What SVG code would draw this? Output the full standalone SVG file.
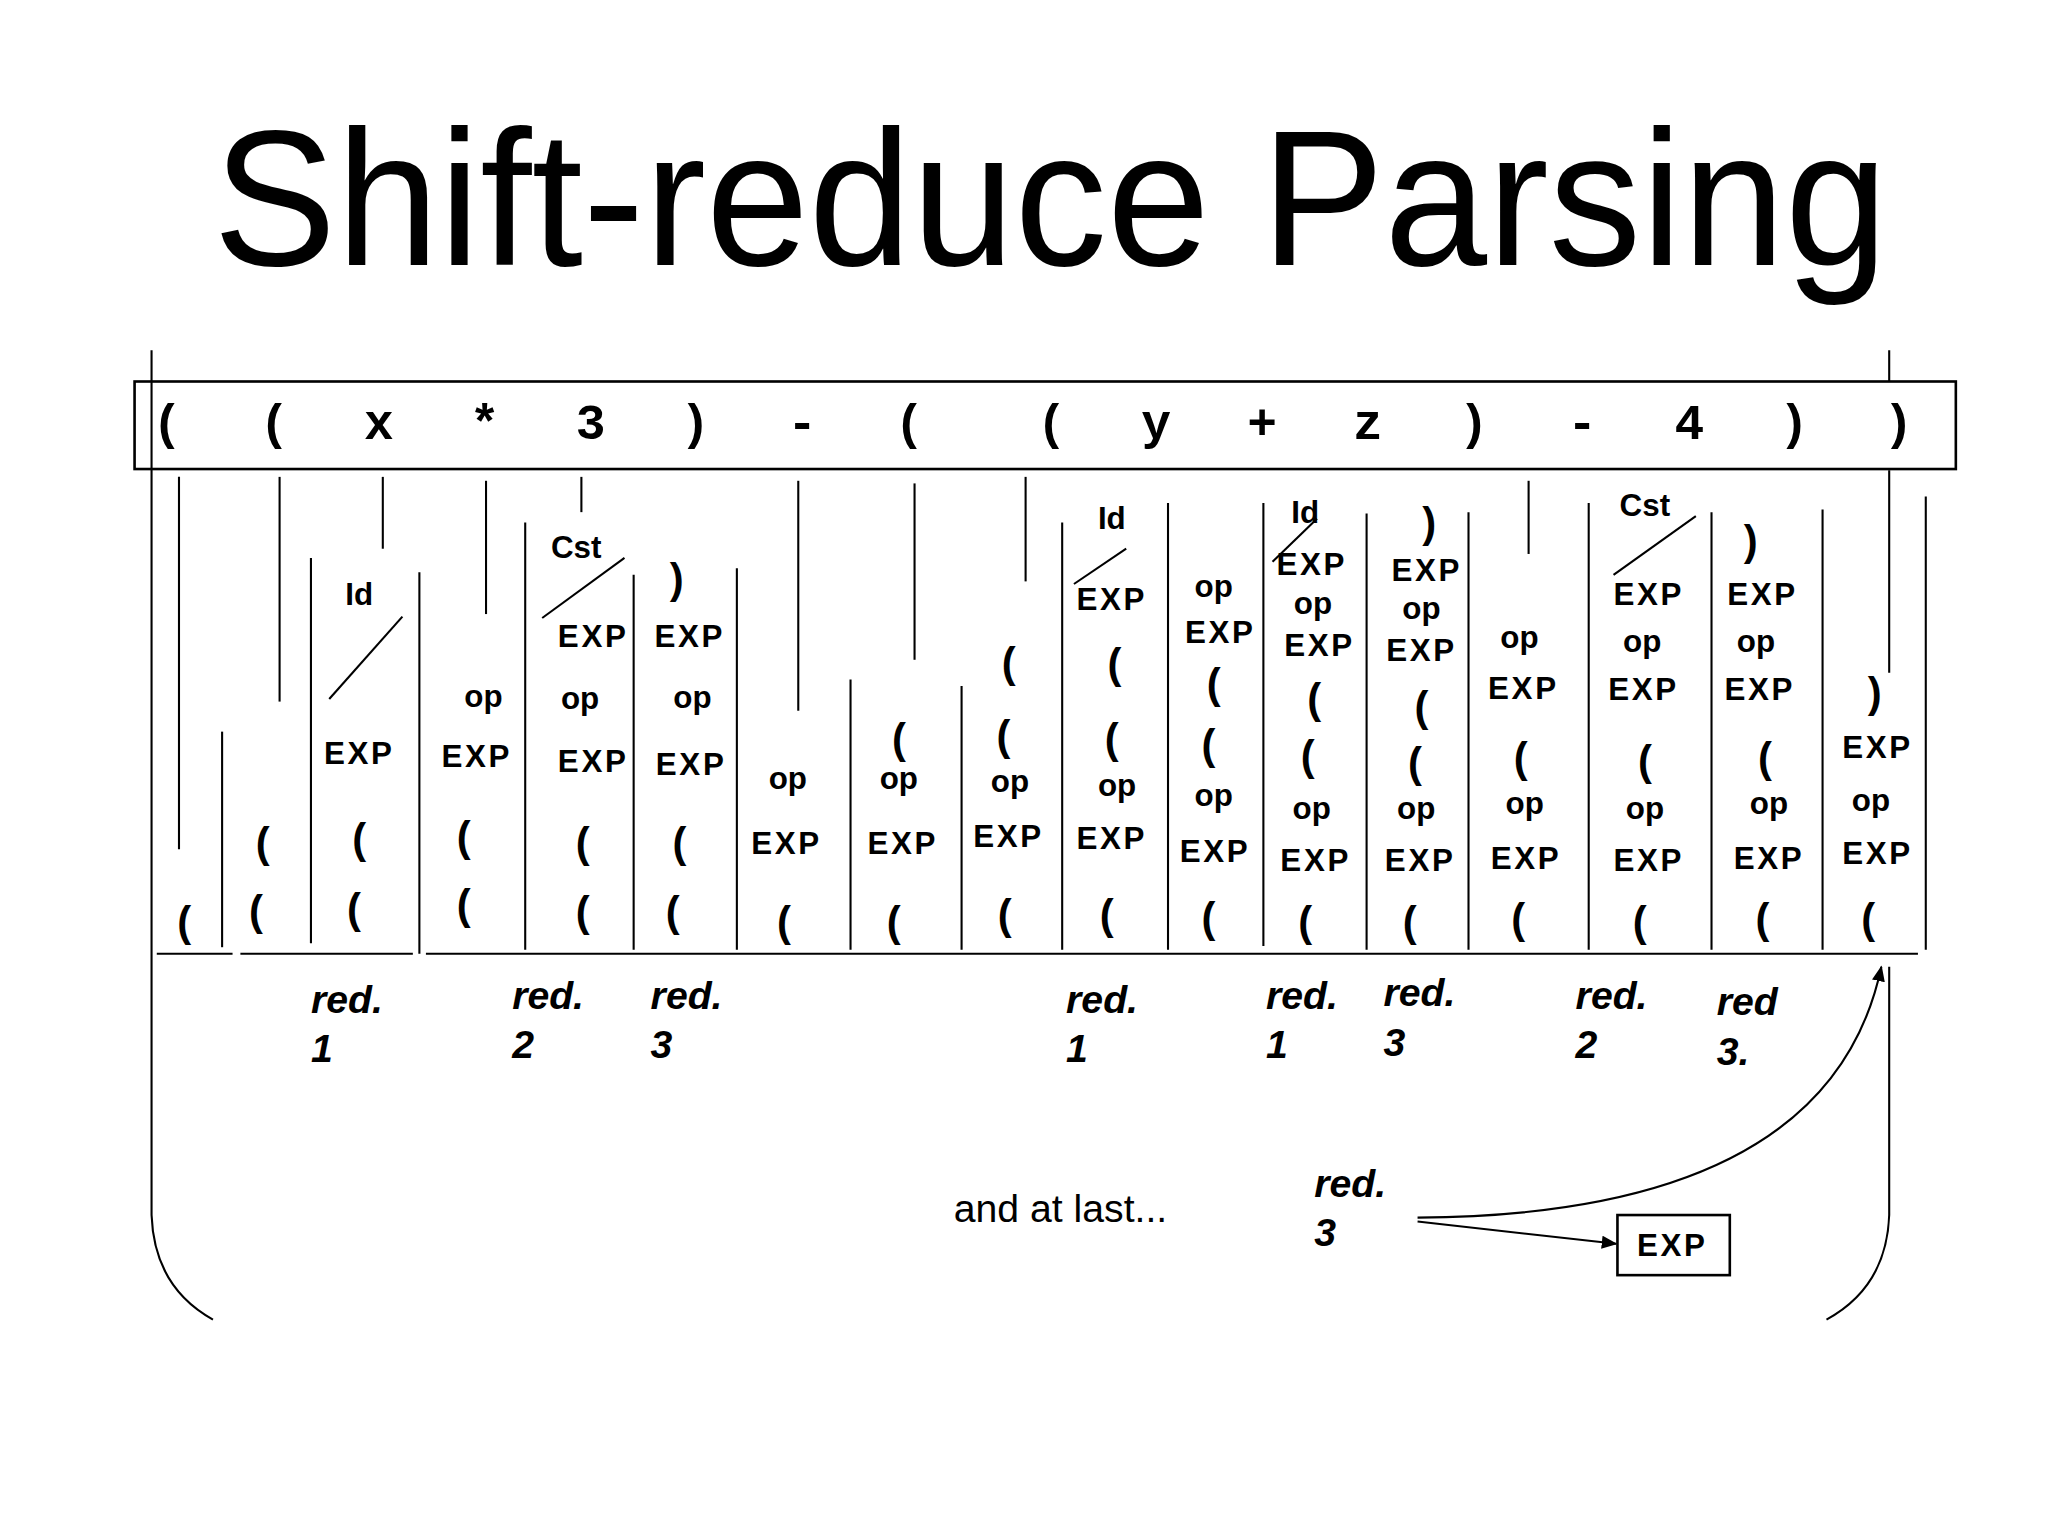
<svg xmlns="http://www.w3.org/2000/svg" width="2048" height="1535" viewBox="0 0 2048 1535">
<style>
text{font-family:"Liberation Sans",Arial,sans-serif;fill:#000}
.s{font-weight:bold;font-size:24px;text-anchor:middle;dominant-baseline:central}
.e{letter-spacing:2px}
.p{font-weight:bold;font-size:32px;text-anchor:middle;dominant-baseline:central}
.t{font-family:"Liberation Mono",monospace;font-weight:bold;font-size:38px;text-anchor:middle;dominant-baseline:central}
.r{font-weight:bold;font-style:italic;font-size:30px}
line,path{stroke:#000;stroke-width:1.6;fill:none}
</style>
<defs><marker id="a" markerWidth="12" markerHeight="10" refX="11" refY="5" orient="auto" markerUnits="userSpaceOnUse"><path d="M0,0 L12,5 L0,10 z" style="fill:#000;stroke:none"/></marker></defs>
<rect width="2048" height="1535" fill="#fff"/>
<g transform="scale(1.3065)">
<text x="163" y="203" font-size="148" textLength="1282" lengthAdjust="spacingAndGlyphs">Shift-reduce Parsing</text>
<g id="input">
<rect x="103" y="292" width="1394" height="67" fill="none" stroke="#000" stroke-width="2"/>
<text class="t" x="128" y="326">(</text><text class="t" x="210" y="326">(</text><text class="t" x="290" y="326">x</text><text class="t" x="371" y="326">*</text><text class="t" x="452" y="326">3</text><text class="t" x="532" y="326">)</text><text class="t" x="614" y="326">-</text><text class="t" x="696" y="326">(</text><text class="t" x="805" y="326">(</text><text class="t" x="885" y="326">y</text><text class="t" x="966" y="326">+</text><text class="t" x="1047" y="326">z</text><text class="t" x="1128" y="326">)</text><text class="t" x="1211" y="326">-</text><text class="t" x="1293" y="326">4</text><text class="t" x="1373" y="326">)</text><text class="t" x="1453" y="326">)</text>
</g>
<g id="connectors">
<path d="M116,268 V930 Q118,985 163,1010"/>
<path d="M1446,268 V292 M1446,360 V515 M1446,740 V930 Q1444,985 1398,1010"/>
<line x1="120" y1="730" x2="178" y2="730"/><line x1="184" y1="730" x2="316" y2="730"/><line x1="326" y1="730" x2="1468" y2="730"/>
<line x1="137" y1="365" x2="137" y2="650"/><line x1="170" y1="560" x2="170" y2="725"/>
<line x1="214" y1="365" x2="214" y2="537"/><line x1="238" y1="427" x2="238" y2="722"/>
<line x1="293" y1="365" x2="293" y2="420"/><line x1="308" y1="472" x2="252" y2="535"/><line x1="321" y1="438" x2="321" y2="730"/>
<line x1="372" y1="368" x2="372" y2="470"/><line x1="402" y1="400" x2="402" y2="727"/>
<line x1="445" y1="365" x2="445" y2="392"/><line x1="478" y1="427" x2="415" y2="473"/><line x1="485" y1="440" x2="485" y2="727"/>
<line x1="564" y1="435" x2="564" y2="727"/>
<line x1="611" y1="368" x2="611" y2="544"/><line x1="651" y1="520" x2="651" y2="727"/>
<line x1="700" y1="370" x2="700" y2="505"/><line x1="736" y1="525" x2="736" y2="727"/>
<line x1="785" y1="365" x2="785" y2="445"/><line x1="813" y1="400" x2="813" y2="727"/>
<line x1="862" y1="420" x2="822" y2="447"/><line x1="894" y1="385" x2="894" y2="727"/>
<line x1="967" y1="385" x2="967" y2="724"/>
<line x1="1008" y1="397" x2="974" y2="430"/><line x1="1046" y1="393" x2="1046" y2="727"/>
<line x1="1124" y1="392" x2="1124" y2="727"/>
<line x1="1170" y1="368" x2="1170" y2="424"/><line x1="1216" y1="385" x2="1216" y2="727"/>
<line x1="1298" y1="395" x2="1235" y2="440"/><line x1="1310" y1="392" x2="1310" y2="727"/>
<line x1="1395" y1="390" x2="1395" y2="727"/>
<line x1="1474" y1="380" x2="1474" y2="727"/>
<path d="M1085,932 Q1400,930 1440,740" marker-end="url(#a)"/>
<line x1="1085" y1="935" x2="1237" y2="952" marker-end="url(#a)"/>
</g>
<g id="stacks">
<text class="p" x="141" y="705">(</text>
<text class="p" x="201" y="645">(</text><text class="p" x="196" y="697">(</text>
<text class="s" x="275" y="455">Id</text><text class="s e" x="275" y="577">EXP</text><text class="p" x="275" y="642">(</text><text class="p" x="271" y="695">(</text>
<text class="s" x="370" y="533">op</text><text class="s e" x="365" y="579">EXP</text><text class="p" x="355" y="640">(</text><text class="p" x="355" y="692">(</text>
<text class="s" x="441" y="419">Cst</text><text class="s e" x="454" y="487">EXP</text><text class="s" x="444" y="535">op</text><text class="s e" x="454" y="583">EXP</text><text class="p" x="446" y="645">(</text><text class="p" x="446" y="698">(</text>
<text class="p" x="518" y="443">)</text><text class="s e" x="528" y="487">EXP</text><text class="s" x="530" y="534">op</text><text class="s e" x="529" y="585">EXP</text><text class="p" x="520" y="645">(</text><text class="p" x="515" y="698">(</text>
<text class="s" x="603" y="596">op</text><text class="s e" x="602" y="646">EXP</text><text class="p" x="600" y="705">(</text>
<text class="p" x="688" y="565">(</text><text class="s" x="688" y="596">op</text><text class="s e" x="691" y="646">EXP</text><text class="p" x="684" y="705">(</text>
<text class="p" x="772" y="507">(</text><text class="p" x="768" y="563">(</text><text class="s" x="773" y="598">op</text><text class="s e" x="772" y="640">EXP</text><text class="p" x="769" y="700">(</text>
<text class="s" x="851" y="397">Id</text><text class="s e" x="851" y="459">EXP</text><text class="p" x="853" y="508">(</text><text class="p" x="851" y="565">(</text><text class="s" x="855" y="601">op</text><text class="s e" x="851" y="642">EXP</text><text class="p" x="847" y="700">(</text>
<text class="s" x="929" y="449">op</text><text class="s e" x="934" y="484">EXP</text><text class="p" x="929" y="523">(</text><text class="p" x="925" y="570">(</text><text class="s" x="929" y="609">op</text><text class="s e" x="930" y="652">EXP</text><text class="p" x="925" y="702">(</text>
<text class="s" x="999" y="392">Id</text><text class="s e" x="1004" y="432">EXP</text><text class="s" x="1005" y="462">op</text><text class="s e" x="1010" y="494">EXP</text><text class="p" x="1006" y="535">(</text><text class="p" x="1001" y="578">(</text><text class="s" x="1004" y="619">op</text><text class="s e" x="1007" y="659">EXP</text><text class="p" x="999" y="705">(</text>
<text class="p" x="1094" y="400">)</text><text class="s e" x="1092" y="437">EXP</text><text class="s" x="1088" y="466">op</text><text class="s e" x="1088" y="498">EXP</text><text class="p" x="1088" y="541">(</text><text class="p" x="1083" y="584">(</text><text class="s" x="1084" y="619">op</text><text class="s e" x="1087" y="659">EXP</text><text class="p" x="1079" y="705">(</text>
<text class="s" x="1163" y="488">op</text><text class="s e" x="1166" y="527">EXP</text><text class="p" x="1164" y="580">(</text><text class="s" x="1167" y="615">op</text><text class="s e" x="1168" y="657">EXP</text><text class="p" x="1162" y="703">(</text>
<text class="s" x="1259" y="387">Cst</text><text class="s e" x="1262" y="455">EXP</text><text class="s" x="1257" y="491">op</text><text class="s e" x="1258" y="528">EXP</text><text class="p" x="1259" y="582">(</text><text class="s" x="1259" y="619">op</text><text class="s e" x="1262" y="659">EXP</text><text class="p" x="1255" y="705">(</text>
<text class="p" x="1340" y="414">)</text><text class="s e" x="1349" y="455">EXP</text><text class="s" x="1344" y="491">op</text><text class="s e" x="1347" y="528">EXP</text><text class="p" x="1351" y="580">(</text><text class="s" x="1354" y="615">op</text><text class="s e" x="1354" y="657">EXP</text><text class="p" x="1349" y="703">(</text>
<text class="p" x="1435" y="530">)</text><text class="s e" x="1437" y="572">EXP</text><text class="s" x="1432" y="613">op</text><text class="s e" x="1437" y="653">EXP</text><text class="p" x="1430" y="703">(</text>
</g>
<g id="labels">
<text class="r" x="238" y="775">red.</text><text class="r" x="238" y="813">1</text>
<text class="r" x="392" y="772">red.</text><text class="r" x="392" y="810">2</text>
<text class="r" x="498" y="772">red.</text><text class="r" x="498" y="810">3</text>
<text class="r" x="816" y="775">red.</text><text class="r" x="816" y="813">1</text>
<text class="r" x="969" y="772">red.</text><text class="r" x="969" y="810">1</text>
<text class="r" x="1059" y="770">red.</text><text class="r" x="1059" y="808">3</text>
<text class="r" x="1206" y="772">red.</text><text class="r" x="1206" y="810">2</text>
<text class="r" x="1314" y="777">red</text><text class="r" x="1314" y="815">3.</text>
<text x="730" y="935" font-size="30">and at last...</text>
<text class="r" x="1006" y="916">red.</text><text class="r" x="1006" y="954">3</text>
</g>
<g id="result">
<rect x="1238" y="930" width="86" height="46" fill="none" stroke="#000" stroke-width="2"/>
<text class="s e" x="1280" y="953">EXP</text>
</g>
</g>
</svg>
